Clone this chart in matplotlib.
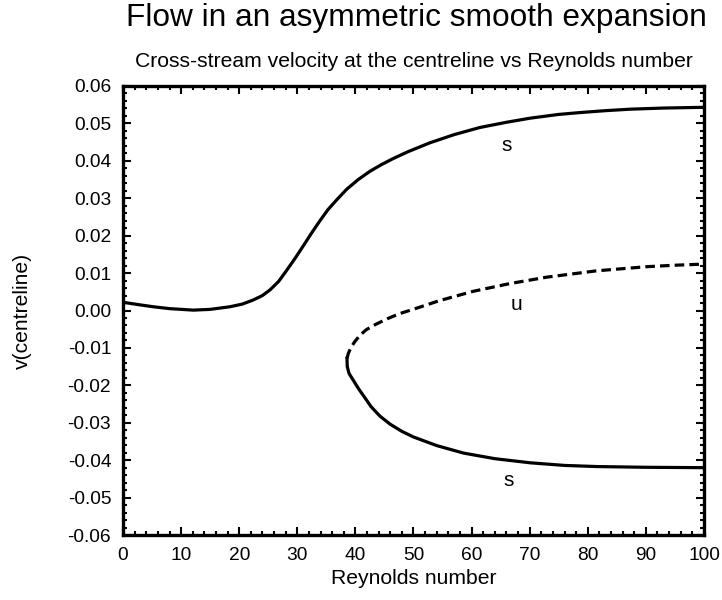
import matplotlib
matplotlib.use('Agg')
import matplotlib.pyplot as plt
from matplotlib.ticker import MultipleLocator

plt.rcParams['font.family'] = ['Liberation Sans', 'DejaVu Sans']

# upper stable branch
re_upper = [0.0, 2.5, 5.2, 8.0, 12.1, 15.0, 18.4, 20.5, 22.4, 24.0, 25.3, 26.8, 28.2,
            29.6, 31.0, 32.5, 33.9, 35.3, 36.8, 38.5, 40.5, 42.5, 44.5, 46.5, 49.0,
            52.8, 57.0, 61.4, 66.0, 70.1, 75.0, 78.7, 83.0, 87.3, 93.0, 100.0]
v_upper = [0.0022, 0.0016, 0.0010, 0.0005, 0.0001, 0.0003, 0.0010, 0.0017, 0.0028,
           0.0040, 0.0055, 0.0078, 0.0108, 0.0139, 0.0172, 0.0208, 0.0240, 0.0270,
           0.0296, 0.0324, 0.0350, 0.0372, 0.0390, 0.0406, 0.0424, 0.0448, 0.0470,
           0.0489, 0.0503, 0.0514, 0.0524, 0.0529, 0.0534, 0.0538, 0.0541, 0.0543]

# unstable branch (dashed)
re_unstable = [38.55, 38.8, 39.2, 39.9, 40.8, 41.9, 43.5, 45.5, 47.5, 50.5, 54.4, 60.2,
               66.6, 72.9, 81.5, 90.1, 95.0, 100.0]
v_unstable = [-0.0128, -0.0114, -0.0100, -0.0083, -0.0066, -0.0051, -0.0037, -0.0022,
              -0.0009, 0.0006, 0.0026, 0.0051, 0.0072, 0.0089, 0.0106, 0.0117, 0.0121,
              0.0124]

# lower stable branch
re_lower = [38.55, 38.6, 38.9, 39.7, 40.5, 41.4, 42.7, 44.2, 46.0, 48.0, 50.0, 54.0,
            58.6, 64.0, 70.1, 76.0, 81.5, 90.0, 100.0]
v_lower = [-0.0128, -0.0150, -0.0168, -0.0188, -0.0208, -0.0228, -0.0257, -0.0282,
           -0.0304, -0.0323, -0.0338, -0.0361, -0.0381, -0.0396, -0.0407, -0.0414,
           -0.0417, -0.0419, -0.0420]

labels = ['s', 'u', 's']
label_re = [66.1, 67.8, 66.3]
label_v = [0.0442, 0.0015, -0.0453]

y_ticks = [-0.06, -0.05, -0.04, -0.03, -0.02, -0.01, 0.0, 0.01, 0.02, 0.03, 0.04, 0.05, 0.06]
y_ticklabels = ['-0.06', '-0.05', '-0.04', '-0.03', '-0.02', '-0.01', '0.00',
                '0.01', '0.02', '0.03', '0.04', '0.05', '0.06']

fig = plt.figure(figsize=(7.22, 6.0), dpi=100)
ax = fig.add_axes([0.1704, 0.1083, 0.8046, 0.7484])

ax.plot(re_upper, v_upper, color='black', linewidth=2.3, solid_joinstyle='round')
ax.plot(re_lower, v_lower, color='black', linewidth=2.3, solid_joinstyle='round')
ax.plot(re_unstable, v_unstable, color='black', linewidth=2.3, linestyle=(0, (3, 1.6)))

for lab, xx, yy in zip(labels, label_re, label_v):
    ax.text(xx, yy, lab, fontsize=15, ha='center', va='center')

ax.set_xlim(0, 100)
ax.set_ylim(-0.06, 0.06)
ax.xaxis.set_major_locator(MultipleLocator(10))
ax.xaxis.set_minor_locator(MultipleLocator(2))
ax.set_yticks(y_ticks)
ax.set_yticklabels(y_ticklabels)
ax.yaxis.set_minor_locator(MultipleLocator(0.002))

ax.tick_params(which='both', direction='in', top=True, right=True, labelsize=13.8, width=1.5)
ax.tick_params(which='major', length=5.5, pad=8.5)
ax.tick_params(which='minor', length=3)
for sp in ax.spines.values():
    sp.set_linewidth(2.4)

ax.set_xlabel('Reynolds number', fontsize=15.2)
ax.set_ylabel('v(centreline)', fontsize=15.2)
ax.xaxis.set_label_coords(0.5, -0.0757)
ax.yaxis.set_label_coords(-0.157, 0.5)
ax.set_title('Cross-stream velocity at the centreline vs Reynolds number', fontsize=15.2, pad=13.5)
fig.text(0.577, 1 - 26 / 600, 'Flow in an asymmetric smooth expansion', fontsize=22.8,
         ha='center', va='baseline')

fig.savefig('out.png', dpi=100)
